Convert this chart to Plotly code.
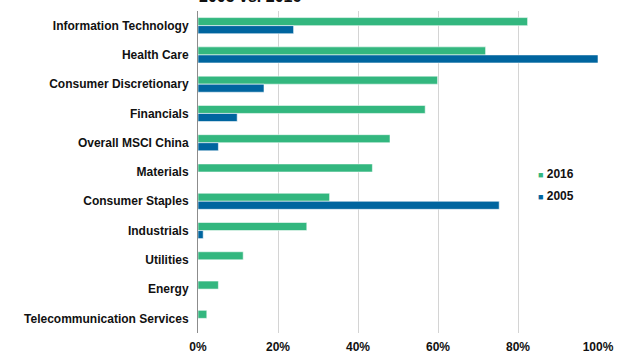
import plotly.graph_objects as go

# Sector weights in MSCI China, share of index (%)
sectors = [
    "Information Technology",
    "Health Care",
    "Consumer Discretionary",
    "Financials",
    "Overall MSCI China",
    "Materials",
    "Consumer Staples",
    "Industrials",
    "Utilities",
    "Energy",
    "Telecommunication Services",
]
values_2016 = [82.4, 71.9, 59.9, 56.8, 48.0, 43.6, 32.9, 27.2, 11.3, 5.1, 2.2]
values_2005 = [23.9, 100.0, 16.5, 9.8, 5.1, None, 75.3, 1.3, None, None, None]
x_ticks = [0, 20, 40, 60, 80, 100]
x_tick_labels = ["0%", "20%", "40%", "60%", "80%", "100%"]

GREEN = "#33b77f"
BLUE = "#00659f"
FONT = "Liberation Sans"

fig = go.Figure()
fig.add_trace(go.Bar(
    y=sectors, x=values_2016, orientation="h", name="2016",
    marker=dict(color=GREEN, line=dict(color="rgba(255,255,255,0.55)", width=1)),
    showlegend=False,
))
fig.add_trace(go.Bar(
    y=sectors, x=values_2005, orientation="h", name="2005",
    marker=dict(color=BLUE, line=dict(color="rgba(255,255,255,0.55)", width=1)),
    showlegend=False,
))

# Legend entries: a small coloured square set right next to the year
for name, color in [("2016", GREEN), ("2005", BLUE)]:
    fig.add_trace(go.Scatter(
        x=[None], y=[None], mode="markers", legendgroup=name,
        name=f"<span style='color:{color};font-size:9px'>■</span> {name}",
        marker=dict(size=1, color="rgba(0,0,0,0)"),
    ))

fig.update_layout(
    width=625, height=354,
    margin=dict(l=198, r=27, t=11, b=21),
    paper_bgcolor="white", plot_bgcolor="white",
    barmode="group", bargap=0.45, bargroupgap=0,
    font=dict(family=FONT, size=12, color="#111111"),
    legend=dict(
        x=0.75, y=0.5425, xanchor="left", yanchor="top",
        font=dict(family=FONT, size=12, color="#111111", weight="bold"),
        bgcolor="rgba(0,0,0,0)", tracegroupgap=3, itemwidth=30,
    ),
    xaxis=dict(
        range=[0, 100], tickvals=x_ticks, ticktext=x_tick_labels,
        showgrid=True, gridcolor="#d4d4d4", gridwidth=1,
        zeroline=False, showline=False, ticks="",
        ticklabelstandoff=5, automargin=False,
        tickfont=dict(family=FONT, size=12, color="#111111", weight="bold"),
        fixedrange=True,
    ),
    yaxis=dict(
        categoryorder="array", categoryarray=sectors, autorange="reversed",
        showline=True, linecolor="#8c8c8c", linewidth=1,
        ticks="", ticklabelstandoff=6, automargin=False,
        tickfont=dict(family=FONT, size=12, color="#111111", weight="bold"),
        showgrid=False,
    ),
    annotations=[dict(
        text="2005 vs. 2016", xref="paper", yref="paper",
        x=0.13, y=1.012, xanchor="center", yanchor="bottom",
        showarrow=False,
        font=dict(family=FONT, size=16, color="#111111", weight="bold"),
    )],
)

fig.write_html("out.html")
